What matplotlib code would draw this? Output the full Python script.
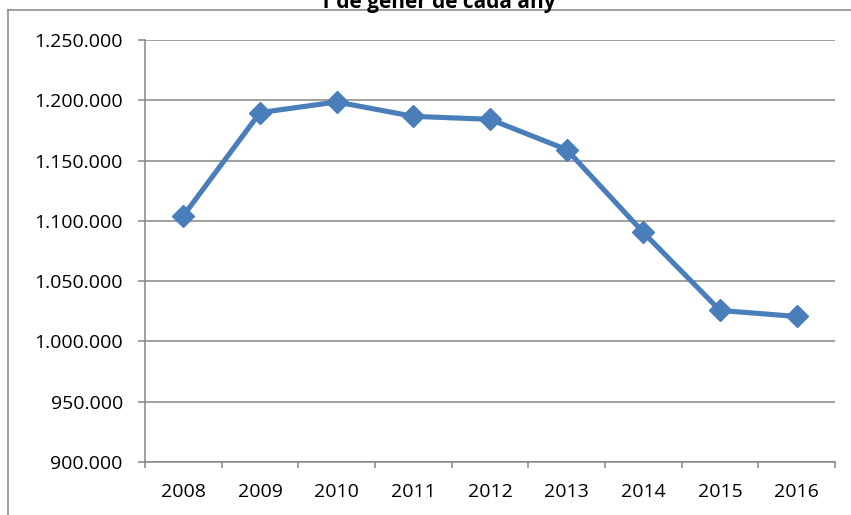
import matplotlib.pyplot as plt
from matplotlib.lines import Line2D
from matplotlib.ticker import FuncFormatter

plt.rcParams['font.family'] = ['Open Sans', 'DejaVu Sans']

# Data
years = ['2008', '2009', '2010', '2011', '2012', '2013', '2014', '2015', '2016']
values = [1104200, 1189800, 1198600, 1186700, 1184200, 1159100, 1090400, 1025700, 1020700]
y_ticks = [900000, 950000, 1000000, 1050000, 1100000, 1150000, 1200000, 1250000]

line_color = '#4A7EBB'
grid_color = '#868686'

fig = plt.figure(figsize=(8.51, 5.15), dpi=100)
ax = fig.add_axes([145 / 851, 53 / 515, 690 / 851, 422 / 515])

x = list(range(len(years)))
ax.plot(x, values, color=line_color, linewidth=3.7, marker='D', markersize=11,
        markeredgecolor=line_color, markerfacecolor=line_color, zorder=3)

ax.set_xlim(-0.5, len(years) - 0.5)
ax.set_ylim(900000, 1250000)
ax.set_yticks(y_ticks)
ax.yaxis.set_major_formatter(FuncFormatter(lambda v, p: f'{int(v):,}'.replace(',', '.')))

# category ticks sit between the labels, like Excel
ax.set_xticks([i - 0.5 for i in range(len(years) + 1)])
ax.set_xticklabels([])
ax.set_xticks(x, minor=True)
ax.set_xticklabels(years, minor=True)
ax.tick_params(axis='x', which='minor', length=0, pad=15, labelsize=14)
ax.tick_params(axis='x', which='major', length=4, width=1.1, color=grid_color)
ax.tick_params(axis='y', length=5, width=1.1, color=grid_color, pad=11, labelsize=14)

ax.grid(axis='y', color=grid_color, linewidth=1.1)
ax.set_axisbelow(True)
for side in ['top', 'right']:
    ax.spines[side].set_visible(False)
for side in ['left', 'bottom']:
    ax.spines[side].set_color(grid_color)
    ax.spines[side].set_linewidth(1.1)

# outer chart border (top and left visible in the crop)
fig.add_artist(Line2D([8 / 851, 8 / 851], [0, 1 - 10 / 515], color=grid_color, linewidth=1.1,
                      transform=fig.transFigure))
fig.add_artist(Line2D([8 / 851, 1], [1 - 10 / 515, 1 - 10 / 515], color=grid_color, linewidth=1.1,
                      transform=fig.transFigure))

# title, cut off at the top edge as in the source
fig.text(437 / 851, 1 - 8 / 515, '1 de gener de cada any', ha='center', va='baseline',
         fontsize=15, fontweight='bold')

fig.savefig('out.png', dpi=100)
